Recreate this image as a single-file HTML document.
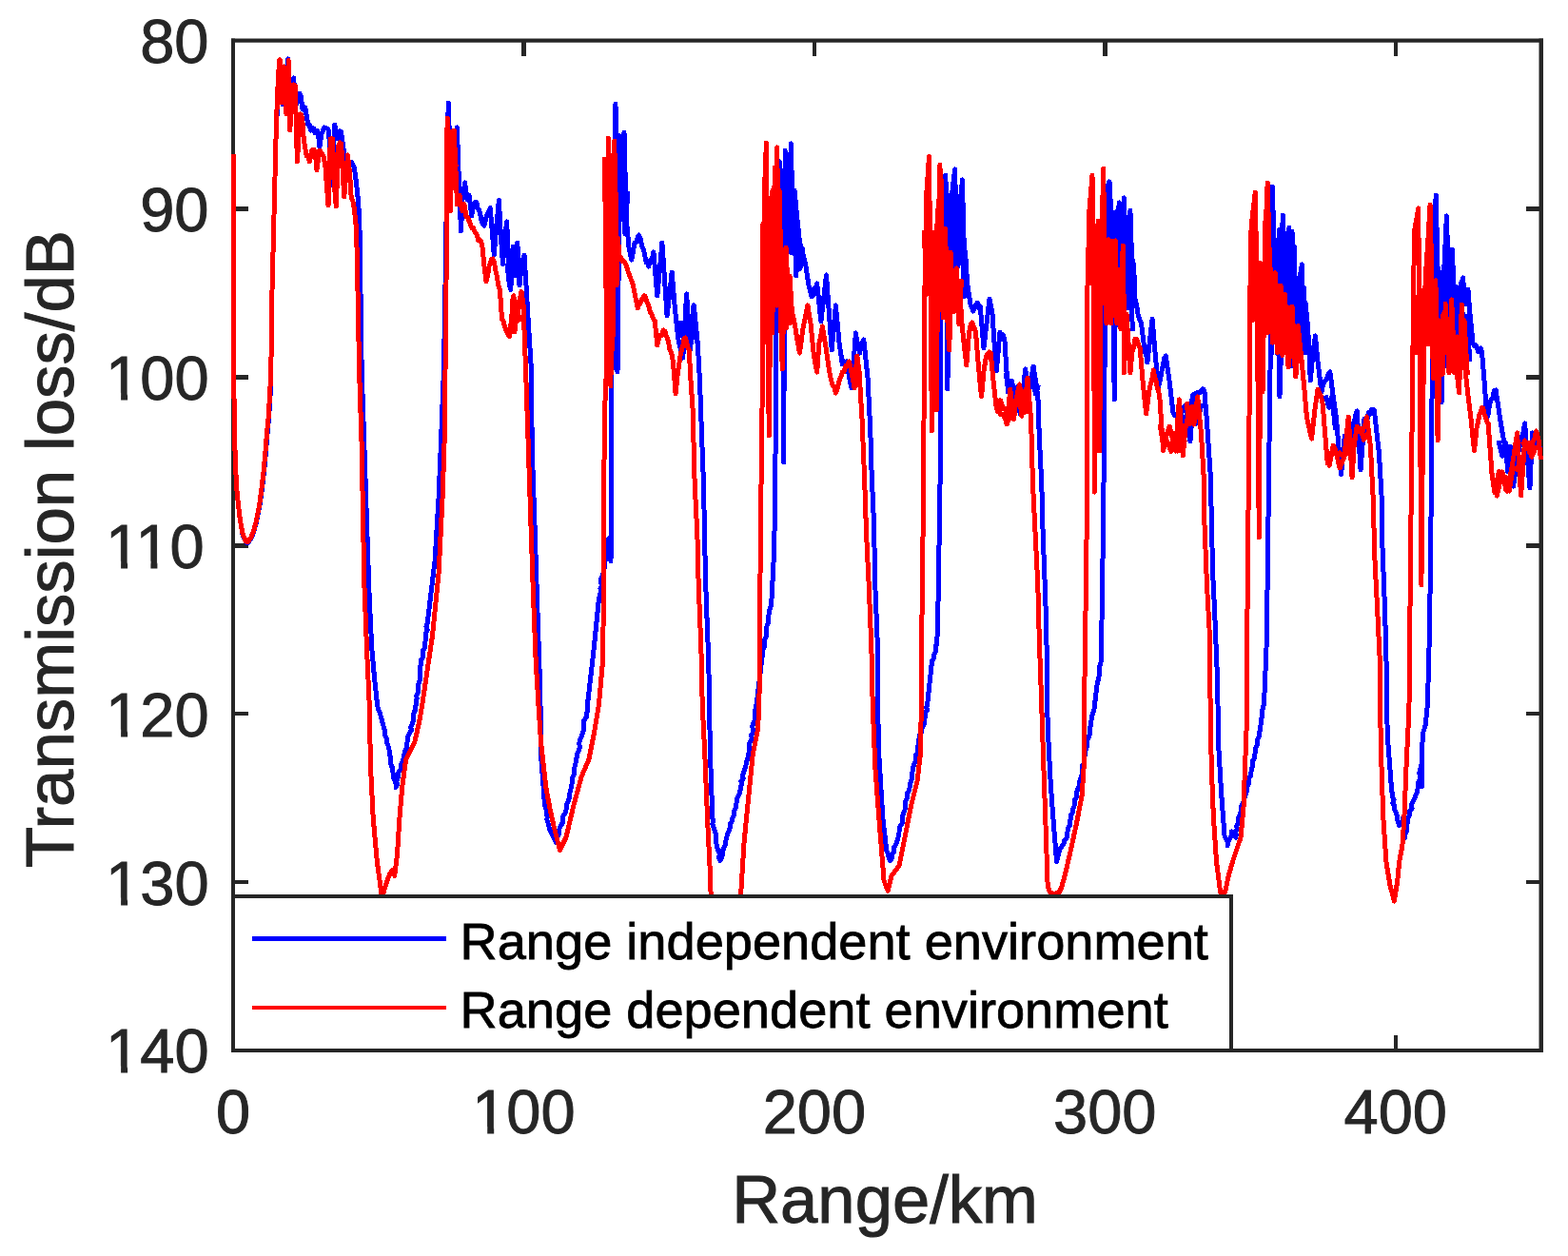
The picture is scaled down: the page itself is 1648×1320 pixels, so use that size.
<!DOCTYPE html><html><head><meta charset="utf-8"><style>html,body{margin:0;padding:0;background:#fff;}svg{display:block;}text{font-family:"Liberation Sans",Arial,Helvetica,sans-serif;}</style></head><body>
<svg width="1648" height="1320" viewBox="0 0 1648 1320">
<rect x="0" y="0" width="1648" height="1320" fill="#fff"/>
<rect x="243" y="40.5" width="1379" height="4.2" fill="#262626"/>
<rect x="243" y="1102" width="1379" height="4" fill="#262626"/>
<rect x="243" y="40.5" width="4" height="1065.5" fill="#262626"/>
<rect x="1617.5" y="40.5" width="4.5" height="1065.5" fill="#262626"/>
<path d="M245.0,219.5H261.0M1619.5,219.5H1603.5M245.0,396.4H261.0M1619.5,396.4H1603.5M245.0,573.3H261.0M1619.5,573.3H1603.5M245.0,750.2H261.0M1619.5,750.2H1603.5M245.0,927.1H261.0M1619.5,927.1H1603.5M550.4,42.6V58.6M550.4,1104.0V1088.0M855.9,42.6V58.6M855.9,1104.0V1088.0M1161.3,42.6V58.6M1161.3,1104.0V1088.0M1466.8,42.6V58.6M1466.8,1104.0V1088.0" stroke="#262626" stroke-width="4.4" fill="none" shape-rendering="crispEdges"/>
<defs><clipPath id="cp"><rect x="243" y="40" width="1379" height="1066"/></clipPath></defs><g clip-path="url(#cp)">
<polyline points="245.0,162.0 245.3,300.0 245.6,390.0 246.3,440.0 246.9,470.0 247.5,488.5 248.7,512.7 250.5,531.0 252.4,546.7 254.8,560.5 255.4,563.6 257.5,566.7 258.4,569.8 260.2,570.5 263.3,567.0 266.3,560.0 269.5,548.5 272.8,532.0 275.3,515.0 277.7,494.5 279.5,474.0 281.3,452.0 282.5,440.0 284.0,416.5 284.8,390.0 286.0,305.0 288.0,226.0 290.0,146.0 292.0,100.0 294.0,80.0 297.0,110.0 300.0,90.0 302.6,62.0 305.0,100.0 306.8,89.4 308.6,82.0 311.0,110.0 312.2,107.8 313.5,100.0 314.9,98.3 316.2,101.0 318.0,115.0 319.4,115.2 320.8,113.0 323.8,131.0 325.3,131.5 326.8,137.0 328.3,134.5 329.8,135.0 330.9,139.5 332.0,138.0 333.2,137.3 334.4,140.0 335.9,155.0 338.0,140.0 339.2,137.9 340.5,134.0 342.0,134.4 343.5,135.1 345.0,136.0 346.5,151.0 348.8,195.0 351.8,131.0 354.1,146.0 355.1,143.0 356.0,140.0 357.3,137.7 358.6,139.0 360.9,155.0 362.2,163.0 363.4,164.5 364.7,173.0 366.4,170.9 368.0,172.0 369.4,170.5 370.9,173.3 372.3,176.0 374.5,192.0 376.8,214.0 378.0,240.0 380.2,390.0 382.9,469.6 385.5,549.0 388.2,628.7 390.8,681.7 393.5,712.0 396.5,740.0 397.0,743.0 397.6,746.0 399.1,749.0 400.0,752.0 401.0,755.6 402.0,759.2 403.0,762.9 404.1,766.5 404.3,769.8 404.9,773.1 406.5,776.4 406.4,779.8 407.8,783.1 408.6,786.4 409.5,789.7 409.4,793.0 410.9,796.4 410.1,799.8 410.7,803.2 412.3,806.6 412.5,810.0 413.4,813.5 413.3,817.0 415.0,820.5 416.0,824.0 416.0,827.5 417.4,824.4 416.9,821.2 417.8,818.1 419.0,815.0 418.9,811.5 421.8,808.0 421.2,804.5 422.7,801.0 423.9,798.0 424.3,794.9 425.2,791.9 425.8,788.9 427.1,785.9 427.4,782.8 428.0,779.8 428.5,776.7 429.0,773.6 430.6,770.5 432.4,767.4 431.7,764.3 433.3,761.2 434.2,758.2 434.7,755.1 434.3,752.1 435.0,749.1 436.5,746.1 436.6,743.0 437.3,740.0 437.5,736.9 438.1,733.9 437.7,730.8 439.3,727.7 439.5,724.6 439.8,721.6 439.8,718.5 441.2,715.4 441.6,712.4 441.5,709.3 441.0,706.2 441.5,703.1 441.9,700.1 443.0,697.0 442.6,693.8 444.3,690.6 444.5,687.4 444.3,684.1 446.2,680.9 446.1,677.7 446.9,674.5 447.5,671.3 447.7,668.1 447.8,664.8 449.2,661.6 448.0,658.4 449.2,655.2 457.1,588.9 461.1,522.6 463.8,456.3 466.4,390.0 468.0,300.0 469.5,200.0 471.2,108.0 473.0,160.0 475.0,140.0 476.5,144.4 478.0,150.0 480.4,134.0 482.0,180.0 484.5,243.0 486.5,200.0 487.6,198.4 488.6,192.0 491.0,210.0 492.0,206.8 493.0,205.0 495.8,227.0 496.9,218.7 498.0,215.0 499.4,212.3 500.9,212.5 501.9,219.2 503.0,220.0 504.5,223.4 506.0,232.0 507.5,235.2 509.0,237.0 510.5,230.3 512.0,225.0 513.6,222.7 515.2,218.5 517.0,240.0 519.3,268.0 522.0,235.0 524.4,210.5 526.5,250.0 528.5,278.0 530.5,250.0 532.6,233.0 534.5,270.0 536.7,304.5 538.5,280.0 540.0,265.0 542.0,290.0 543.8,255.0 546.0,300.0 548.0,280.0 549.5,273.0 551.0,268.0 553.0,300.0 556.0,350.0 558.5,390.0 559.2,469.6 561.9,549.0 564.5,628.7 567.2,708.0 568.0,740.0 568.5,793.0 572.5,846.0 573.4,849.0 574.4,852.1 574.2,855.1 575.4,858.2 574.7,861.2 575.8,864.3 576.5,867.3 577.8,871.6 580.0,876.0 581.3,879.3 583.3,882.5 584.4,885.8 584.6,882.7 585.8,879.6 587.7,876.5 587.5,873.5 588.1,870.4 589.7,867.3 591.7,864.1 591.9,860.9 591.9,857.8 594.1,854.6 595.0,851.4 595.0,848.0 595.8,844.6 597.7,841.2 598.3,837.7 598.6,834.3 599.6,830.9 600.3,827.5 601.0,824.3 601.4,821.0 601.3,817.8 603.2,814.5 603.8,811.3 603.7,808.0 604.2,804.8 605.2,801.5 605.6,798.3 606.3,794.9 606.9,791.5 608.6,788.1 609.4,784.7 608.7,781.3 609.5,777.9 610.9,774.5 612.2,771.1 613.3,767.7 613.6,764.3 613.5,760.8 613.8,757.4 616.1,754.0 616.2,750.6 617.5,747.1 617.6,743.5 617.5,740.0 624.2,681.7 629.5,628.7 630.5,625.3 631.4,621.9 631.0,618.5 632.4,615.2 631.5,611.8 631.7,608.4 633.0,605.0 634.3,602.0 634.7,599.0 635.6,596.0 634.9,593.0 635.9,590.0 637.0,587.0 639.5,566.0 642.0,590.0 642.7,500.0 643.0,390.0 645.0,250.0 647.0,109.0 648.0,250.0 649.0,391.0 650.5,250.0 652.0,180.0 654.0,150.0 655.0,145.6 656.0,139.0 657.5,200.0 658.6,234.0 661.0,260.0 662.4,266.5 663.7,273.0 665.4,264.9 667.0,255.0 668.5,254.7 670.0,250.2 671.5,247.0 673.2,251.4 675.0,260.0 676.5,262.4 678.0,270.0 679.3,276.0 680.5,276.6 681.8,280.0 683.5,273.2 685.2,272.7 686.9,265.0 690.8,311.0 695.9,255.0 701.1,332.0 706.2,286.0 709.0,320.0 712.6,355.0 714.3,362.5 716.1,370.4 717.8,376.0 721.6,309.0 725.5,368.0 729.4,322.0 733.2,360.0 735.5,400.0 737.0,443.0 739.5,509.0 740.8,575.6 742.2,628.7 744.8,695.0 745.5,740.0 746.5,793.0 748.8,859.3 749.5,862.6 748.9,865.9 750.0,869.2 751.0,872.5 752.2,875.9 752.2,879.2 752.1,882.5 752.8,885.8 753.3,888.9 754.2,892.0 755.3,895.1 756.5,898.2 755.2,901.3 756.8,904.4 758.7,901.2 759.5,898.0 759.1,894.9 760.6,891.7 762.1,888.5 762.5,885.3 763.3,882.0 764.1,878.8 764.9,875.5 766.8,872.3 767.2,869.0 767.5,865.8 769.8,862.5 770.0,859.3 771.5,856.1 771.1,852.9 773.1,849.8 773.8,846.6 774.1,843.4 774.0,840.2 776.0,837.0 777.1,833.9 778.0,830.7 778.0,827.5 779.7,824.5 778.8,821.4 781.2,818.4 780.2,815.4 781.5,812.4 782.6,809.3 783.3,806.3 784.2,803.2 784.6,800.2 785.9,797.1 786.3,794.1 787.1,791.0 787.3,787.9 787.5,784.9 787.2,781.8 789.1,778.7 790.2,775.7 789.4,772.6 791.6,769.6 791.2,766.5 790.7,763.2 792.0,759.9 793.2,756.6 793.6,753.2 793.9,749.9 793.8,746.6 794.2,743.3 795.2,740.0 800.5,695.0 800.3,691.9 801.8,688.9 801.1,685.8 801.8,682.8 803.5,679.7 803.4,676.6 803.1,673.6 804.4,670.5 805.9,667.4 805.6,664.4 805.6,661.3 805.9,658.3 807.1,655.2 807.6,651.9 807.6,648.6 808.1,645.3 808.2,642.0 809.8,638.6 810.7,635.3 810.6,632.0 811.1,628.7 813.8,575.6 815.1,469.6 815.2,390.0 815.5,287.0 817.5,200.0 819.5,170.0 821.5,230.0 823.0,300.0 823.7,486.0 824.5,300.0 825.1,158.0 827.0,230.0 829.0,200.0 831.5,151.0 833.0,230.0 835.0,200.0 837.7,228.0 840.0,250.0 841.6,259.8 843.3,265.0 845.1,271.2 847.0,280.0 850.0,300.0 851.5,305.1 853.1,312.0 854.5,310.8 855.9,302.8 857.3,303.1 858.7,298.0 862.9,338.0 868.5,289.0 874.2,368.0 878.4,321.0 882.0,360.0 885.4,383.0 886.9,379.6 888.5,382.1 890.0,380.0 891.7,390.5 893.5,401.4 895.2,408.0 899.4,350.0 900.8,359.1 902.2,364.0 903.6,371.0 905.0,364.5 906.4,359.6 907.8,357.0 912.0,397.0 914.8,453.0 916.2,500.0 918.5,549.0 919.8,615.4 922.5,681.7 922.5,740.0 923.8,793.0 927.8,859.3 931.8,893.8 933.3,897.3 934.0,900.9 935.7,904.4 937.8,901.2 937.4,898.0 939.8,894.9 939.0,891.7 941.1,888.5 942.4,885.1 943.8,881.8 944.2,878.4 945.0,875.0 945.1,871.8 945.8,868.6 948.1,865.4 948.8,862.2 948.0,859.0 949.1,855.8 950.6,852.6 951.4,849.4 951.4,846.2 951.2,843.0 953.1,839.8 953.3,836.6 953.7,833.5 955.7,830.3 956.1,827.1 956.3,823.9 957.7,820.7 958.8,817.4 958.6,814.0 959.1,810.7 959.8,807.3 960.2,804.0 962.1,800.6 962.0,797.3 962.3,794.3 964.1,791.2 964.2,788.2 964.5,785.2 965.8,782.2 965.3,779.1 966.2,776.1 966.2,772.8 968.3,769.4 968.1,766.1 970.7,762.7 971.7,759.4 971.5,756.0 972.6,752.7 972.3,749.5 974.6,746.4 973.7,743.2 974.7,740.0 979.5,695.0 981.3,691.9 981.2,688.8 982.9,685.7 983.8,682.6 983.2,679.5 984.8,676.4 986.1,628.7 987.4,549.0 988.6,469.6 988.8,390.0 989.0,307.0 990.5,250.0 992.0,200.0 993.9,184.0 995.0,250.0 995.9,409.0 997.0,300.0 999.0,240.0 1001.0,200.0 1003.6,178.0 1005.0,230.0 1007.0,280.0 1009.0,220.0 1011.4,189.0 1013.0,250.0 1015.3,280.0 1017.0,300.0 1018.2,308.0 1020.0,320.0 1021.5,323.7 1023.0,327.0 1024.5,323.6 1026.0,320.0 1027.4,318.1 1028.9,323.8 1030.3,322.0 1033.9,366.0 1037.0,340.0 1040.0,314.0 1041.5,322.0 1043.0,330.0 1045.0,360.0 1047.3,390.0 1050.9,349.0 1052.5,352.5 1054.2,352.0 1055.8,356.0 1059.4,412.0 1060.7,404.5 1062.0,400.0 1063.3,400.4 1064.7,405.7 1066.0,410.0 1067.5,416.1 1069.0,425.0 1070.8,430.0 1072.7,436.0 1077.6,388.0 1079.4,396.8 1081.2,407.0 1082.8,401.7 1084.5,394.7 1086.1,385.0 1088.5,400.0 1090.9,417.0 1092.2,456.0 1094.8,509.0 1096.2,562.4 1098.8,628.7 1100.1,681.7 1100.5,740.0 1102.1,782.5 1104.3,824.9 1107.5,867.4 1110.6,905.6 1111.3,901.9 1112.6,898.2 1113.2,894.5 1114.9,890.8 1117.9,887.3 1118.6,883.7 1121.3,880.2 1121.5,876.9 1122.1,873.6 1122.7,870.3 1124.7,867.0 1124.2,863.6 1125.7,860.3 1125.5,857.0 1127.5,853.7 1127.6,850.4 1128.9,847.4 1130.0,844.3 1129.0,841.3 1131.0,838.3 1131.8,835.3 1131.8,832.2 1132.9,829.2 1134.0,826.0 1134.0,822.8 1135.2,819.7 1136.5,816.5 1137.1,813.3 1137.2,810.1 1137.5,807.0 1137.9,804.0 1139.9,800.9 1139.0,797.8 1140.1,794.8 1140.6,791.7 1141.1,788.6 1142.0,785.6 1142.5,782.5 1142.3,779.5 1143.6,776.4 1144.6,773.4 1145.6,770.3 1145.5,767.3 1145.6,764.2 1146.7,761.2 1146.9,758.0 1147.4,754.7 1148.0,751.5 1149.0,748.2 1150.0,745.0 1153.0,720.0 1153.3,716.9 1154.9,713.8 1155.0,710.6 1155.9,707.5 1155.5,704.4 1155.5,701.2 1156.7,698.1 1157.1,695.0 1158.5,628.7 1159.8,522.6 1160.9,443.0 1161.0,390.0 1161.2,337.0 1162.5,250.0 1164.0,200.0 1165.0,193.6 1166.0,191.0 1168.0,260.0 1170.0,300.0 1171.2,420.0 1172.5,300.0 1174.0,240.0 1176.3,213.0 1178.0,260.0 1180.0,240.0 1181.5,208.0 1183.0,260.0 1185.0,280.0 1187.9,221.0 1189.5,270.0 1190.5,273.9 1191.6,279.0 1193.0,314.0 1194.5,320.0 1196.0,330.0 1197.8,336.0 1199.5,340.0 1202.0,360.0 1203.3,369.8 1204.6,372.2 1205.9,381.0 1211.1,335.0 1214.0,370.0 1217.5,407.0 1219.2,400.1 1221.0,390.0 1222.4,383.5 1223.8,376.4 1225.2,374.0 1229.0,400.0 1232.9,433.0 1234.6,436.9 1236.3,436.7 1238.0,440.0 1239.7,435.4 1241.3,434.3 1243.0,432.0 1244.4,428.1 1245.7,426.8 1247.1,425.0 1250.9,464.0 1254.8,415.0 1256.5,413.7 1258.3,412.5 1260.0,412.0 1261.5,412.3 1263.0,410.2 1264.4,408.8 1265.9,411.0 1268.5,443.0 1272.0,496.0 1273.5,549.0 1274.5,600.0 1276.6,641.9 1279.3,708.2 1280.0,740.0 1280.6,782.5 1283.8,835.6 1287.0,878.0 1288.5,881.6 1290.1,885.1 1290.2,888.7 1290.7,885.0 1292.8,881.2 1294.3,877.5 1294.4,873.8 1296.3,877.0 1298.7,880.2 1299.2,877.2 1298.8,874.1 1300.4,871.1 1299.6,868.0 1301.5,865.0 1302.0,861.9 1301.9,858.9 1303.6,855.2 1304.7,851.5 1304.2,847.8 1306.1,844.1 1307.8,840.8 1308.3,837.4 1309.7,834.1 1310.6,830.7 1310.6,827.4 1312.3,824.0 1312.5,820.7 1312.6,817.6 1314.8,814.6 1314.9,811.5 1315.9,808.4 1316.1,805.4 1316.8,802.3 1316.9,799.2 1318.7,796.2 1318.8,793.1 1319.5,789.9 1319.5,786.7 1321.2,783.5 1321.5,780.3 1321.9,777.2 1323.3,774.0 1323.1,770.8 1324.3,767.6 1324.6,764.4 1325.2,761.2 1325.4,758.2 1325.9,755.1 1326.8,752.1 1326.5,749.1 1326.9,746.1 1327.7,743.0 1328.5,740.0 1331.0,681.7 1332.3,602.1 1333.6,496.0 1335.0,390.0 1336.0,300.0 1337.4,196.0 1339.0,260.0 1341.0,300.0 1342.9,252.0 1344.0,300.0 1345.0,417.0 1346.5,300.0 1348.2,226.0 1350.0,270.0 1352.0,300.0 1354.9,239.0 1356.0,300.0 1358.0,243.0 1359.5,320.0 1361.8,396.0 1363.0,330.0 1365.0,300.0 1368.3,278.0 1370.0,330.0 1372.0,318.0 1374.7,345.0 1377.3,400.0 1380.0,370.0 1382.4,353.0 1385.0,380.0 1388.9,412.0 1390.3,405.5 1391.6,401.6 1393.0,400.0 1394.6,397.1 1396.3,393.2 1397.9,391.0 1401.0,415.0 1404.3,438.0 1409.5,499.0 1413.3,458.0 1418.0,470.0 1422.0,445.0 1423.4,442.5 1424.8,436.4 1426.2,432.0 1430.1,494.0 1434.0,440.0 1435.5,440.0 1437.0,440.4 1438.5,433.6 1440.0,435.0 1441.4,430.8 1442.9,430.2 1444.3,431.0 1449.4,476.0 1452.0,520.0 1453.0,575.6 1455.6,641.9 1457.0,695.0 1457.0,740.0 1459.0,782.5 1462.2,824.9 1463.0,828.1 1462.4,831.3 1463.9,834.5 1463.5,837.6 1465.1,840.8 1463.8,844.0 1465.7,847.2 1465.4,850.4 1467.1,853.8 1468.2,857.2 1468.8,860.6 1469.2,864.0 1470.7,867.4 1473.7,863.1 1474.9,858.9 1477.0,880.2 1476.9,877.2 1478.3,874.1 1478.2,871.1 1478.0,868.0 1479.1,865.0 1479.4,861.9 1480.2,858.9 1481.8,855.7 1481.7,852.5 1484.1,849.3 1483.5,846.2 1484.7,843.0 1486.6,839.8 1487.9,836.1 1489.6,832.3 1490.1,828.6 1490.9,824.9 1490.7,821.9 1492.6,818.8 1492.6,815.8 1491.7,812.8 1492.4,809.8 1493.3,806.7 1494.0,803.7 1494.5,827.0 1495.1,771.9 1496.2,768.3 1497.4,764.8 1498.3,761.2 1500.4,740.0 1502.0,681.7 1503.4,602.1 1504.5,496.0 1505.0,420.0 1505.5,362.0 1507.0,250.0 1509.2,205.0 1511.0,280.0 1513.0,350.0 1515.1,423.0 1517.0,300.0 1520.4,227.0 1522.0,280.0 1524.0,300.0 1526.2,262.0 1528.0,300.0 1531.0,330.0 1534.0,310.0 1535.8,300.3 1537.6,292.0 1540.0,320.0 1541.5,312.4 1542.9,304.0 1545.0,330.0 1548.0,360.0 1549.3,363.1 1550.7,362.4 1552.0,365.0 1553.5,369.3 1555.0,368.0 1556.2,366.0 1557.5,370.0 1560.0,400.0 1562.8,439.0 1564.2,434.7 1565.6,424.6 1567.0,420.0 1568.7,418.9 1570.4,410.5 1572.1,410.0 1577.4,445.0 1582.7,476.0 1586.0,490.0 1590.6,511.0 1595.0,480.0 1599.0,460.0 1600.8,455.3 1602.6,445.0 1607.9,513.0 1610.5,455.0 1612.2,459.1 1614.0,460.0 1615.0,466.9 1616.0,468.0 1619.5,472.0" fill="none" stroke="#0000ff" stroke-width="5" stroke-linejoin="round" stroke-linecap="butt" shape-rendering="crispEdges"/>
<polyline points="533.0,276.6 535.4,300.2 539.3,259.3 541.6,287.0 544.3,276.8 546.8,283.4 549.5,278.3" fill="none" stroke="#0000ff" stroke-width="5" stroke-linejoin="round" shape-rendering="crispEdges"/>
<polyline points="650.0,140.4 652.0,231.1 654.9,144.5 656.9,246.0 659.9,201.1" fill="none" stroke="#0000ff" stroke-width="5" stroke-linejoin="round" shape-rendering="crispEdges"/>
<polyline points="818.0,184.9 820.2,293.3 823.4,184.9 826.3,276.2 828.7,185.8 831.5,265.4 834.3,221.6 836.8,290.0 838.9,246.7 841.0,282.4 843.7,259.4" fill="none" stroke="#0000ff" stroke-width="5" stroke-linejoin="round" shape-rendering="crispEdges"/>
<polyline points="989.0,208.8 991.6,313.8 994.7,193.0 997.4,281.6 999.8,220.7 1002.8,295.4 1005.6,205.4 1008.0,276.5 1010.4,225.4 1013.6,311.8 1015.8,271.6" fill="none" stroke="#0000ff" stroke-width="5" stroke-linejoin="round" shape-rendering="crispEdges"/>
<polyline points="1162.0,228.8 1164.7,304.8 1167.0,208.3 1169.9,322.3 1172.3,222.8 1174.6,339.9 1177.4,249.1 1180.3,324.2 1182.7,228.2 1184.7,323.9 1187.0,231.6 1190.3,348.2" fill="none" stroke="#0000ff" stroke-width="5" stroke-linejoin="round" shape-rendering="crispEdges"/>
<polyline points="1333.0,226.5 1335.8,380.2 1339.1,271.8 1342.5,371.4 1344.7,241.4 1346.8,382.2 1349.7,245.3 1352.8,350.2 1355.1,245.3 1357.5,384.5 1360.3,258.8 1362.4,352.7 1364.9,301.3 1368.2,366.8 1370.4,301.9 1372.6,373.2" fill="none" stroke="#0000ff" stroke-width="5" stroke-linejoin="round" shape-rendering="crispEdges"/>
<polyline points="1504.0,288.1 1506.5,363.8 1508.9,252.4 1511.0,368.9 1514.0,286.7 1517.3,377.0 1519.6,244.8 1521.7,386.4 1524.3,264.6 1527.0,353.9 1530.4,301.1 1532.7,377.7 1535.9,296.2 1539.0,384.3 1541.6,332.1 1544.9,379.9" fill="none" stroke="#0000ff" stroke-width="5" stroke-linejoin="round" shape-rendering="crispEdges"/>
<polyline points="715.0,337.2 718.5,357.9 721.1,335.6 725.2,356.2 729.1,320.7 732.3,360.4" fill="none" stroke="#0000ff" stroke-width="5" stroke-linejoin="round" shape-rendering="crispEdges"/>
<polyline points="1057.0,392.2 1061.2,414.7 1064.1,407.4 1067.8,408.0 1071.5,404.7 1075.6,417.1 1078.3,407.5 1081.0,411.8 1085.5,396.9 1088.5,414.1 1091.4,404.6" fill="none" stroke="#0000ff" stroke-width="5" stroke-linejoin="round" shape-rendering="crispEdges"/>
<polyline points="1240.0,428.9 1244.0,444.5 1247.5,435.4 1250.4,430.7 1253.9,414.8 1257.9,445.1 1262.4,426.8 1265.3,426.5" fill="none" stroke="#0000ff" stroke-width="5" stroke-linejoin="round" shape-rendering="crispEdges"/>
<polyline points="1393.0,415.6 1396.9,428.1 1399.8,416.7 1403.6,452.1" fill="none" stroke="#0000ff" stroke-width="5" stroke-linejoin="round" shape-rendering="crispEdges"/>
<polyline points="1575.0,463.1 1578.9,479.1 1582.2,465.2 1584.7,495.7 1587.2,469.0 1590.8,498.4" fill="none" stroke="#0000ff" stroke-width="5" stroke-linejoin="round" shape-rendering="crispEdges"/>
<polyline points="245.0,162.0 245.3,300.0 245.6,390.0 246.3,440.0 246.9,470.0 247.5,488.5 248.7,512.7 250.5,531.0 252.4,546.7 254.8,560.0 258.4,569.0 260.2,569.7 263.3,566.0 266.3,558.8 269.3,547.9 272.4,532.0 274.8,515.0 277.2,494.5 279.0,474.0 280.8,452.0 282.0,440.0 283.5,416.5 284.8,390.0 286.0,305.0 288.0,226.0 290.0,146.0 291.5,100.0 293.5,64.0 294.2,62.7 296.5,108.0 298.5,70.0 301.0,120.0 303.3,63.5 304.8,137.0 307.1,90.0 308.6,88.9 310.2,90.0 312.4,170.0 315.5,120.0 316.6,120.4 317.7,125.0 319.2,146.0 320.8,155.9 322.3,164.0 323.8,164.4 325.3,170.0 326.5,164.2 327.6,158.0 328.9,158.2 330.1,157.3 331.4,161.0 332.9,179.0 335.9,158.0 337.4,160.0 339.0,162.0 340.5,166.2 342.0,176.0 345.0,216.0 347.3,146.0 348.4,145.6 349.5,146.0 351.1,191.0 353.3,217.0 355.6,154.0 357.1,149.9 358.6,151.0 361.7,207.0 365.5,163.0 367.7,184.0 369.2,208.0 370.8,211.0 372.3,219.0 374.5,240.0 375.5,279.0 377.6,390.0 380.2,469.6 381.6,549.0 382.9,615.0 385.5,681.7 388.2,740.0 389.5,806.3 392.2,859.3 396.2,904.4 399.0,925.0 401.5,945.0 404.0,935.0 406.8,925.6 410.0,918.0 412.0,915.0 414.7,920.3 417.4,899.1 420.0,859.3 422.7,827.5 426.6,798.3 430.6,790.4 435.9,779.8 441.2,755.9 443.9,740.0 449.0,705.0 454.5,668.4 461.1,602.1 465.1,522.6 467.8,443.0 468.0,390.0 469.0,300.0 469.5,200.0 470.2,124.0 471.5,180.0 473.3,222.0 475.0,170.0 477.3,137.0 479.0,180.0 480.5,215.0 481.8,209.5 483.0,205.0 484.5,215.5 486.0,222.0 487.0,216.2 488.0,215.0 490.0,228.0 491.5,228.3 493.0,232.0 494.3,235.1 495.7,239.4 497.0,239.0 498.5,242.5 500.0,245.0 501.3,246.7 502.7,252.5 504.0,252.0 505.5,253.3 507.0,260.0 509.0,280.0 511.0,296.0 512.5,290.2 514.0,280.0 515.3,276.1 516.7,272.5 518.0,272.0 519.5,276.2 521.0,285.0 522.0,288.9 523.0,295.0 524.2,301.6 525.4,304.5 527.5,335.0 529.2,338.1 531.0,345.0 532.6,348.4 534.1,351.6 535.7,353.6 538.0,330.0 539.8,310.7 542.0,330.0 543.0,332.7 543.9,337.0 546.0,315.0 547.0,311.0 548.0,306.5 550.0,320.0 552.6,390.0 555.3,469.6 557.9,549.0 560.6,628.7 563.2,695.0 565.9,740.0 568.5,779.8 573.8,827.5 578.0,850.0 581.8,867.3 585.0,880.0 588.4,893.8 591.0,888.0 595.0,880.0 603.0,846.0 610.9,816.9 618.9,798.3 624.2,771.8 629.5,740.0 633.5,695.0 634.8,602.1 634.8,496.0 636.1,416.5 637.4,390.0 638.0,250.0 639.3,145.0 640.5,260.0 641.9,406.0 643.0,300.0 644.0,180.0 645.7,148.0 647.0,200.0 648.0,300.0 649.5,250.0 650.9,270.0 652.5,269.9 654.0,275.0 655.5,274.0 657.1,276.6 658.6,280.0 660.3,286.1 662.0,290.0 663.4,294.2 664.9,298.2 666.3,304.0 667.6,311.2 668.9,317.1 670.2,324.0 671.5,319.8 672.7,319.8 674.0,315.0 675.3,314.9 676.6,310.8 677.9,311.0 679.2,315.1 680.5,318.5 681.8,322.0 683.4,328.3 685.0,330.0 686.6,334.9 688.2,337.0 690.8,363.0 692.4,356.2 694.0,352.0 695.6,352.4 697.2,347.0 698.9,348.4 700.6,353.8 702.3,358.0 704.0,367.2 705.8,371.2 707.5,381.0 710.1,414.0 712.0,395.0 715.2,373.0 716.6,367.4 718.0,362.0 719.2,355.7 720.4,355.0 721.7,360.3 722.9,365.3 724.2,368.0 726.0,400.0 728.1,430.0 730.2,509.3 732.9,562.4 734.2,615.4 736.9,681.7 738.2,740.0 740.8,793.0 743.5,859.3 746.0,910.0 747.5,950.0 778.0,950.0 782.0,885.8 785.9,846.0 791.2,793.0 796.5,766.5 797.9,740.0 798.5,681.7 799.2,575.6 800.5,469.6 801.5,390.0 802.0,300.0 803.5,200.0 805.4,150.0 806.5,250.0 808.2,458.0 810.0,300.0 812.0,200.0 814.0,260.0 816.6,155.0 818.0,230.0 820.0,320.0 822.3,388.0 824.0,300.0 826.0,260.0 828.0,300.0 829.0,295.4 830.0,290.0 832.1,323.5 833.4,332.9 834.7,336.7 836.0,345.0 837.5,354.8 839.0,362.9 840.5,371.0 844.0,345.0 845.6,337.5 847.3,328.7 848.9,321.0 852.0,340.0 855.0,370.0 856.9,382.5 858.7,391.0 861.0,360.0 862.6,354.2 864.3,343.0 866.1,353.8 868.0,365.0 871.3,388.0 873.1,397.5 875.0,405.0 876.7,406.4 878.4,413.0 880.2,407.7 882.0,400.0 883.7,396.4 885.4,391.0 887.2,390.5 889.0,384.0 890.7,383.9 892.4,380.0 893.7,384.7 895.0,392.0 896.5,399.3 898.0,408.0 900.8,374.0 903.0,390.0 906.0,440.0 908.5,500.0 910.6,562.0 913.2,615.0 915.9,681.7 917.2,740.0 919.8,806.3 923.8,859.3 929.1,925.6 933.1,936.2 937.1,920.3 941.0,915.0 945.0,910.0 951.4,878.0 957.7,846.2 964.1,820.7 967.3,793.1 968.4,740.0 968.9,655.2 970.2,549.0 971.0,443.0 971.5,390.0 972.0,300.0 974.0,200.0 976.5,164.5 978.0,300.0 979.4,453.0 981.0,350.0 982.5,250.0 984.2,431.0 986.0,250.0 987.9,173.0 989.5,230.0 991.0,300.0 993.0,260.0 995.0,320.0 997.6,368.0 1000.0,300.0 1001.5,296.0 1003.0,290.0 1006.0,320.0 1008.5,300.0 1010.9,339.0 1013.0,360.0 1015.8,384.0 1018.5,350.0 1020.1,341.6 1021.8,339.0 1023.6,343.8 1025.5,349.0 1028.0,380.0 1031.5,417.0 1034.0,390.0 1036.4,375.0 1038.0,371.7 1039.6,370.0 1041.2,371.0 1044.0,400.0 1047.3,429.0 1048.7,427.9 1050.0,432.0 1051.7,435.6 1053.3,436.0 1054.7,435.8 1056.0,440.0 1057.1,441.5 1058.2,446.0 1061.8,409.0 1065.5,441.0 1068.0,420.0 1069.8,411.3 1071.5,404.0 1076.4,434.0 1080.0,397.0 1083.6,441.0 1085.5,509.3 1088.2,562.4 1090.8,615.4 1092.2,668.4 1094.7,740.0 1096.8,803.7 1099.0,867.4 1101.1,930.0 1103.0,937.0 1106.4,939.5 1112.8,938.5 1115.5,933.0 1119.1,920.5 1125.5,892.9 1131.9,863.2 1137.2,835.6 1139.3,803.7 1139.6,740.0 1141.2,628.7 1142.6,522.6 1142.6,390.0 1143.0,300.0 1145.0,220.0 1148.0,184.4 1149.5,300.0 1150.5,517.0 1152.0,400.0 1153.5,300.0 1155.7,474.0 1157.0,300.0 1159.6,177.0 1161.0,260.0 1163.0,340.0 1165.0,300.0 1167.0,330.0 1169.0,280.0 1172.5,253.0 1174.0,340.0 1176.0,300.0 1178.0,330.0 1180.2,258.0 1181.5,392.0 1184.0,330.0 1186.0,360.0 1187.9,392.0 1190.0,370.0 1191.5,365.2 1193.0,356.0 1194.7,356.8 1196.5,362.4 1198.2,366.0 1201.0,400.0 1204.6,435.0 1208.0,410.0 1209.4,403.3 1210.9,398.3 1212.3,389.0 1213.7,396.4 1215.0,400.0 1216.3,407.9 1217.5,410.0 1218.8,417.0 1222.6,474.0 1226.0,458.0 1227.5,452.5 1229.1,448.0 1230.5,453.2 1232.0,460.0 1235.5,474.0 1239.4,420.0 1243.2,479.0 1246.0,450.0 1247.8,441.3 1249.7,428.0 1251.4,436.7 1253.1,437.9 1254.8,446.0 1258.7,417.0 1262.5,456.0 1265.1,500.0 1265.9,549.0 1268.5,615.4 1271.0,660.0 1272.1,740.0 1273.2,803.7 1275.3,856.8 1278.5,905.6 1282.7,938.0 1285.0,942.0 1287.5,938.0 1291.2,920.5 1295.5,905.6 1299.7,892.9 1304.0,880.2 1307.2,846.2 1308.2,814.3 1310.3,761.2 1310.3,740.0 1311.1,628.7 1312.4,496.0 1313.5,390.0 1314.0,300.0 1316.0,230.0 1319.3,202.0 1321.0,300.0 1322.5,450.0 1323.2,565.0 1324.5,400.0 1326.0,300.0 1327.0,412.0 1329.0,300.0 1331.0,220.0 1332.2,192.0 1334.0,260.0 1336.0,300.0 1337.0,293.1 1338.0,290.0 1339.2,286.9 1340.3,287.0 1343.0,330.0 1346.0,300.0 1348.0,330.0 1350.2,309.0 1352.0,360.0 1354.1,386.0 1356.0,340.0 1358.0,322.0 1360.0,370.0 1361.8,396.0 1364.0,370.0 1365.0,363.4 1366.0,360.0 1368.3,381.0 1371.0,410.0 1373.4,438.0 1374.7,443.9 1376.0,450.0 1377.3,456.0 1378.6,461.0 1382.0,430.0 1385.0,409.0 1386.7,412.9 1388.5,416.7 1390.2,425.0 1393.0,460.0 1395.3,487.0 1399.0,478.0 1403.0,471.0 1408.2,492.0 1413.3,479.0 1417.2,438.0 1421.1,502.0 1423.0,470.0 1426.2,448.0 1427.9,450.2 1429.7,452.5 1431.4,456.0 1433.1,450.4 1434.8,446.7 1436.5,438.0 1440.4,469.0 1443.0,520.0 1445.0,588.9 1447.7,641.9 1450.3,695.0 1450.5,740.0 1451.6,793.1 1453.7,856.8 1456.9,905.6 1461.1,931.1 1465.4,947.0 1468.6,926.9 1470.7,905.6 1473.9,888.7 1476.0,856.8 1478.1,803.7 1480.2,761.2 1481.0,740.0 1482.1,628.7 1483.5,496.0 1484.8,390.0 1485.5,300.0 1487.0,240.0 1488.8,230.6 1490.7,219.0 1492.0,350.0 1493.9,615.0 1495.5,450.0 1497.0,320.0 1499.0,280.0 1501.0,250.0 1503.1,215.0 1505.0,300.0 1507.0,350.0 1509.0,330.0 1511.1,463.0 1513.0,380.0 1515.0,340.0 1516.0,335.1 1517.0,330.0 1519.0,360.0 1521.0,340.0 1523.0,392.0 1525.7,315.0 1528.0,370.0 1531.0,390.0 1533.6,413.0 1536.3,320.0 1539.0,380.0 1542.9,415.0 1546.0,440.0 1549.5,474.0 1552.0,450.0 1553.5,443.2 1555.0,435.0 1556.3,434.1 1557.5,428.3 1558.8,429.0 1560.1,435.4 1561.4,438.7 1562.8,443.2 1564.1,445.0 1568.1,498.0 1573.4,521.0 1578.9,496.0 1582.9,515.0 1584.0,516.0 1589.3,490.0 1594.6,455.0 1598.6,521.0 1602.6,463.0 1607.9,476.0 1611.0,465.0 1612.8,460.8 1614.5,453.0 1615.8,456.9 1617.0,462.0 1619.5,483.0" fill="none" stroke="#ff0000" stroke-width="5" stroke-linejoin="round" stroke-linecap="butt" shape-rendering="crispEdges"/>
<polyline points="469.0,133.7 471.7,194.6 474.0,138.4 476.9,193.0 479.3,172.7" fill="none" stroke="#ff0000" stroke-width="5" stroke-linejoin="round" shape-rendering="crispEdges"/>
<polyline points="635.5,165.1 637.7,365.2 640.9,183.8 643.8,367.2 646.4,205.7" fill="none" stroke="#ff0000" stroke-width="5" stroke-linejoin="round" shape-rendering="crispEdges"/>
<polyline points="801.0,234.5 802.9,360.2 805.0,200.9 807.9,315.1 809.9,207.9 811.7,349.8 814.3,175.8 816.5,321.2 819.1,200.2 821.9,325.4 823.7,266.6 826.6,344.6 828.7,304.4 831.0,341.6" fill="none" stroke="#ff0000" stroke-width="5" stroke-linejoin="round" shape-rendering="crispEdges"/>
<polyline points="971.5,242.3 973.4,309.9 976.0,219.3 978.4,300.8 980.5,244.6 983.0,336.5 985.3,221.2 987.2,325.1 989.0,185.7 991.1,333.7 993.4,240.4 995.8,313.1 999.1,265.1 1002.4,327.4 1005.2,281.9 1007.9,340.9 1010.5,293.4" fill="none" stroke="#ff0000" stroke-width="5" stroke-linejoin="round" shape-rendering="crispEdges"/>
<polyline points="1144.0,239.0 1146.1,297.4 1148.3,210.1 1151.5,328.7 1154.1,232.0 1157.4,298.9 1159.5,193.2 1162.1,324.9 1165.1,251.8 1167.8,339.9 1170.0,253.2 1172.7,333.0 1175.5,283.3 1177.8,345.7 1180.3,288.6 1182.6,355.4" fill="none" stroke="#ff0000" stroke-width="5" stroke-linejoin="round" shape-rendering="crispEdges"/>
<polyline points="1314.0,242.2 1316.7,336.5 1319.1,233.8 1321.5,351.2 1324.4,276.0 1327.7,352.3 1330.1,228.1 1332.9,349.5 1335.1,284.6 1337.6,360.3 1339.5,291.5" fill="none" stroke="#ff0000" stroke-width="5" stroke-linejoin="round" shape-rendering="crispEdges"/>
<polyline points="1340.0,298.1 1342.6,370.6 1345.1,314.9 1347.7,373.4 1349.9,311.3 1352.1,368.8 1353.9,322.9 1356.4,375.0 1358.9,339.0 1362.2,375.7 1364.3,342.5 1367.5,378.1" fill="none" stroke="#ff0000" stroke-width="5" stroke-linejoin="round" shape-rendering="crispEdges"/>
<polyline points="1485.0,279.1 1488.0,371.0 1491.8,298.6 1495.3,364.2 1497.7,318.7 1500.6,361.8 1502.9,243.1 1506.5,397.5 1508.8,294.7 1511.5,381.0" fill="none" stroke="#ff0000" stroke-width="5" stroke-linejoin="round" shape-rendering="crispEdges"/>
<polyline points="1512.0,341.0 1516.1,393.5 1519.3,319.4 1523.0,389.5 1526.0,352.8 1528.5,391.6 1531.5,354.0 1534.8,371.7 1539.0,336.7 1542.3,394.0" fill="none" stroke="#ff0000" stroke-width="5" stroke-linejoin="round" shape-rendering="crispEdges"/>
<polyline points="538.0,313.4 540.9,348.7 543.6,327.6 547.2,337.9" fill="none" stroke="#ff0000" stroke-width="5" stroke-linejoin="round" shape-rendering="crispEdges"/>
<polyline points="1046.0,419.6 1048.6,432.6 1051.4,420.7 1054.5,429.9 1057.3,429.6 1059.9,441.9 1063.8,429.3 1068.0,425.5 1070.8,411.1 1073.9,437.3 1076.7,411.6 1079.9,434.7" fill="none" stroke="#ff0000" stroke-width="5" stroke-linejoin="round" shape-rendering="crispEdges"/>
<polyline points="1219.0,446.2 1222.1,463.8 1226.3,463.0 1230.8,474.4 1233.8,455.4 1237.6,474.1 1241.6,449.9 1245.5,464.9" fill="none" stroke="#ff0000" stroke-width="5" stroke-linejoin="round" shape-rendering="crispEdges"/>
<polyline points="1247.0,422.4 1249.9,445.7 1253.2,427.3 1256.3,440.3 1259.9,421.8" fill="none" stroke="#ff0000" stroke-width="5" stroke-linejoin="round" shape-rendering="crispEdges"/>
<polyline points="1393.0,466.7 1397.1,489.3 1401.2,468.0 1404.9,477.8 1407.8,475.9 1412.3,480.1 1415.5,460.2 1420.0,483.9 1424.3,458.1" fill="none" stroke="#ff0000" stroke-width="5" stroke-linejoin="round" shape-rendering="crispEdges"/>
<polyline points="1425.0,450.0 1427.5,452.2 1430.5,450.6 1433.4,462.2 1437.3,454.7" fill="none" stroke="#ff0000" stroke-width="5" stroke-linejoin="round" shape-rendering="crispEdges"/>
<polyline points="1567.0,491.6 1571.0,518.0 1575.3,495.5 1579.1,500.8 1582.3,501.1 1586.2,516.1 1590.1,492.4 1594.3,493.3 1598.1,484.7" fill="none" stroke="#ff0000" stroke-width="5" stroke-linejoin="round" shape-rendering="crispEdges"/>
<polyline points="1600.0,463.7 1604.5,471.3 1607.1,465.0 1609.9,480.3 1614.0,470.4 1617.6,470.6" fill="none" stroke="#ff0000" stroke-width="5" stroke-linejoin="round" shape-rendering="crispEdges"/>
</g>
<rect x="245" y="941.6" width="1049" height="162.4" fill="#fff" stroke="#262626" stroke-width="4" shape-rendering="crispEdges"/>
<rect x="265" y="984" width="204" height="5" fill="#0000ff"/>
<rect x="265" y="1057" width="204" height="4" fill="#ff0000"/>
<text x="483.6" y="1008" font-size="54.2" fill="#000" stroke="#000" stroke-width="0.8">Range independent environment</text>
<text x="483.6" y="1080.3" font-size="54.2" fill="#000" stroke="#000" stroke-width="0.8">Range dependent environment</text>
<text x="147.2" y="66.0" font-size="65" fill="#262626" stroke="#262626" stroke-width="0.9">80</text>
<text x="147.2" y="242.9" font-size="65" fill="#262626" stroke="#262626" stroke-width="0.9">90</text>
<text x="111.1" y="419.8" font-size="65" fill="#262626" stroke="#262626" stroke-width="0.9">100</text>
<rect x="113.6" y="412.8" width="13.5" height="8.5" fill="#fff"/>
<rect x="134.1" y="412.8" width="13" height="8.5" fill="#fff"/>
<text x="111.1" y="596.7" font-size="65" fill="#262626" stroke="#262626" stroke-width="0.9">110</text>
<rect x="113.6" y="589.7" width="13.5" height="8.5" fill="#fff"/>
<rect x="134.1" y="589.7" width="13" height="8.5" fill="#fff"/>
<rect x="144.9" y="589.7" width="13.5" height="8.5" fill="#fff"/>
<rect x="165.4" y="589.7" width="13" height="8.5" fill="#fff"/>
<text x="111.1" y="773.6" font-size="65" fill="#262626" stroke="#262626" stroke-width="0.9">120</text>
<rect x="113.6" y="766.6" width="13.5" height="8.5" fill="#fff"/>
<rect x="134.1" y="766.6" width="13" height="8.5" fill="#fff"/>
<text x="111.1" y="950.5" font-size="65" fill="#262626" stroke="#262626" stroke-width="0.9">130</text>
<rect x="113.6" y="943.5" width="13.5" height="8.5" fill="#fff"/>
<rect x="134.1" y="943.5" width="13" height="8.5" fill="#fff"/>
<text x="111.1" y="1127.4" font-size="65" fill="#262626" stroke="#262626" stroke-width="0.9">140</text>
<rect x="113.6" y="1120.4" width="13.5" height="8.5" fill="#fff"/>
<rect x="134.1" y="1120.4" width="13" height="8.5" fill="#fff"/>
<text x="245.0" y="1191" font-size="65" fill="#262626" stroke="#262626" stroke-width="0.9" text-anchor="middle">0</text>
<text x="550.4" y="1191" font-size="65" fill="#262626" stroke="#262626" stroke-width="0.9" text-anchor="middle">100</text>
<rect x="498.7" y="1184.0" width="13.5" height="8.5" fill="#fff"/>
<rect x="519.2" y="1184.0" width="13" height="8.5" fill="#fff"/>
<text x="855.9" y="1191" font-size="65" fill="#262626" stroke="#262626" stroke-width="0.9" text-anchor="middle">200</text>
<text x="1161.3" y="1191" font-size="65" fill="#262626" stroke="#262626" stroke-width="0.9" text-anchor="middle">300</text>
<text x="1466.8" y="1191" font-size="65" fill="#262626" stroke="#262626" stroke-width="0.9" text-anchor="middle">400</text>
<text x="930" y="1284.8" font-size="70.6" fill="#262626" stroke="#262626" stroke-width="1" text-anchor="middle">Range/km</text>
<text transform="translate(77,577) rotate(-90)" x="0" y="0" font-size="70.8" fill="#262626" stroke="#262626" stroke-width="1" text-anchor="middle">Transmission loss/dB</text>
</svg></body></html>
